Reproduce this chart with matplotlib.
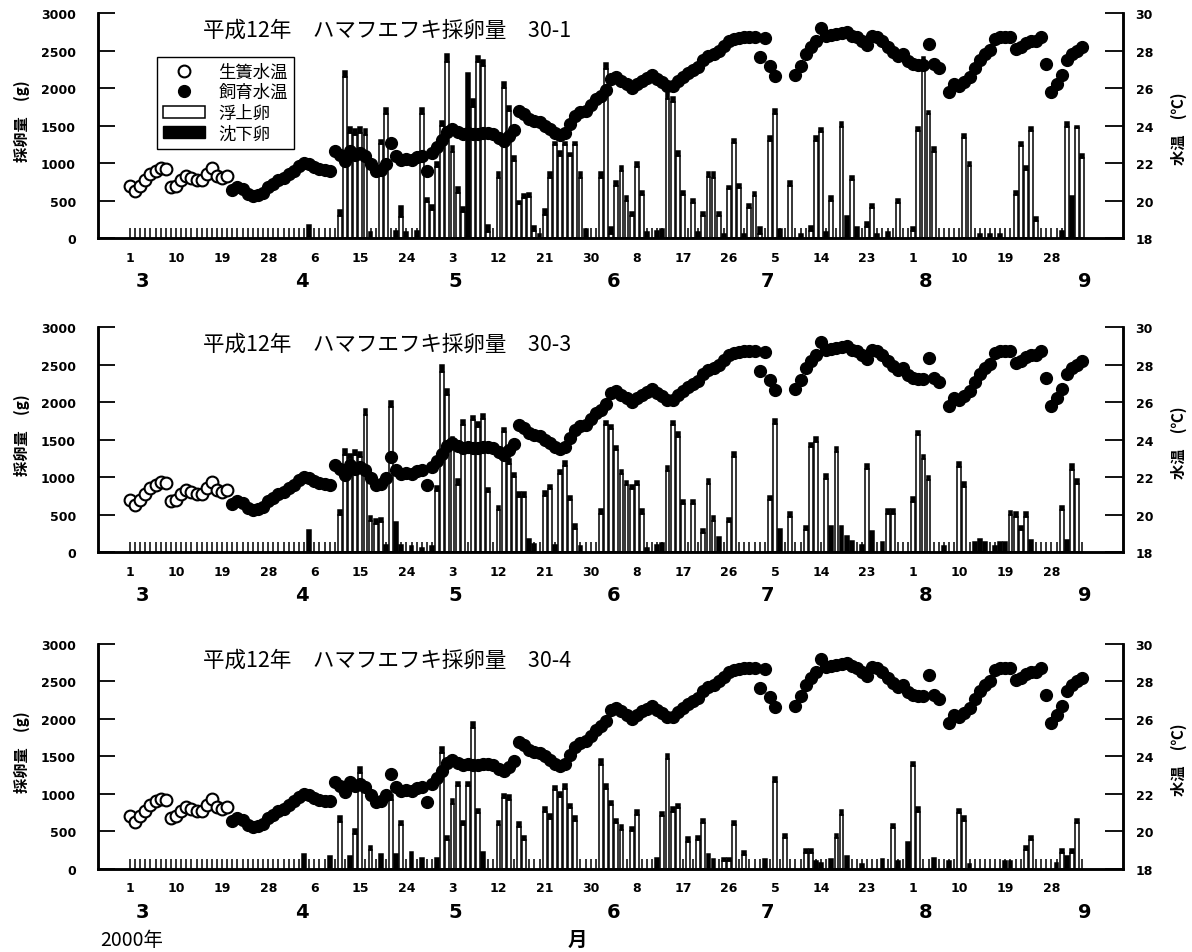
import numpy as np
import matplotlib
matplotlib.use('Agg')
import matplotlib.pyplot as plt
from matplotlib.lines import Line2D
from matplotlib.patches import Patch
from matplotlib.transforms import blended_transform_factory

plt.rcParams['font.family'] = ['DejaVu Sans', 'Noto Sans CJK JP']
JP = ['Noto Sans CJK JP', 'DejaVu Sans']
NUM = ['Liberation Sans Narrow', 'DejaVu Sans']

# day 0 = 3月1日
tick_days = list(range(0, 181, 9))
tick_labels = ['1', '10', '19', '28', '6', '15', '24', '3', '12', '21', '30',
               '8', '17', '26', '5', '14', '23', '1', '10', '19', '28']
month_start = [0, 31, 61, 92, 122, 153, 184]
month_names = ['3', '4', '5', '6', '7', '8', '9']

# 生簀水温 (day 0-19)
open_temp = [20.8, 20.5, 20.8, 21.1, 21.4, 21.6, 21.75, 21.7,
             20.7, 20.8, 21.1, 21.3, 21.2, 21.1, 21.1, 21.4, 21.75, 21.3, 21.2, 21.3]

# 飼育水温 (day 20-186)
fed_temp = [20.55, 20.7, 20.6, 20.35, 20.25, 20.3, 20.4, 20.7, 20.9, 21.1,      # 20-29
            21.2, 21.4, 21.6, 21.85, 22.0, 21.95, 21.8, 21.7, 21.65, 21.6,      # 30-39
            22.65, 22.45, 22.1, 22.65, 22.45, 22.55, 22.35, 21.95, 21.55, 21.65,  # 40-49
            21.95, 23.05, 22.35, 22.15, 22.2, 22.15, 22.3, 22.35, 21.55, 22.55,  # 50-59
            22.85, 23.25, 23.65, 23.8, 23.65, 23.55, 23.6, 23.55, 23.55, 23.6,   # 60-69
            23.6, 23.55, 23.35, 23.2, 23.45, 23.75, 24.75, 24.6, 24.35, 24.25,   # 70-79
            24.2, 24.0, 23.8, 23.6, 23.5, 23.6, 24.1, 24.5, 24.7, 24.8,         # 80-89
            25.1, 25.4, 25.6, 25.9, 26.5, 26.6, 26.4, 26.2, 26.0, 26.2,         # 90-99
            26.4, 26.55, 26.7, 26.5, 26.3, 26.1, 26.1, 26.35, 26.6, 26.8,       # 100-109
            26.95, 27.1, 27.5, 27.7, 27.8, 28.0, 28.25, 28.5, 28.6, 28.65,      # 110-119
            28.7, 28.7, 28.7, 27.65, 28.65, 27.15, 26.65, np.nan, np.nan, np.nan,  # 120-129
            26.7, 27.2, 27.8, 28.2, 28.5, 29.2, 28.75, 28.85, 28.9, 28.95,      # 130-139
            29.0, 28.8, 28.7, 28.5, 28.3, 28.75, 28.7, 28.5, 28.2, 27.9,        # 140-149
            27.7, 27.8, 27.45, 27.3, 27.25, 27.25, 28.35, 27.3, 27.05, np.nan,  # 150-159
            25.8, 26.2, 26.1, 26.3, 26.6, 27.05, 27.5, 27.8, 28.05, 28.6,       # 160-169
            28.7, 28.7, 28.7, 28.1, 28.2, 28.4, 28.5, 28.5, 28.7, 27.3,         # 170-179
            25.8, 26.2, 26.7, 27.5, 27.8, 28.0, 28.2]                           # 180-186

# 30-1
p1_days = [35, 41, 42, 43, 44, 45, 46, 47, 49, 50,
           52, 53, 54, 56, 57, 58, 59, 60, 61, 62,
           63, 64, 65, 66, 67, 68, 69, 70, 72, 73,
           74, 75, 76, 77, 78, 79, 80, 81, 82, 83,
           84, 85, 86, 87, 88, 89, 92, 93, 94, 95,
           96, 97, 98, 99, 100, 101, 103, 104, 105, 106,
           107, 108, 110, 111, 112, 113, 114, 115, 116, 117,
           118, 119, 120, 121, 122, 123, 125, 126, 127, 129,
           131, 133, 134, 135, 136, 137, 139, 140, 141, 142,
           144, 145, 146, 148, 150, 153, 154, 155, 156, 157,
           163, 164, 166, 168, 170, 173, 174, 175, 176, 177,
           182, 183, 184, 185, 186]
p1_float = [0, 300, 2150, 1400, 1380, 1400, 1380, 0, 1250, 1650,
            0, 280, 0, 0, 1650, 480, 380, 950, 1500, 2350,
            1150, 600, 350, 0, 1750, 2350, 2300, 80, 800, 2000,
            1700, 1030, 450, 540, 550, 100, 0, 310, 800, 1240,
            1100, 1240, 1100, 1240, 800, 0, 800, 2250, 50, 700,
            900, 500, 300, 950, 580, 0, 0, 0, 1850, 1820,
            1100, 580, 470, 0, 300, 820, 800, 300, 0, 650,
            1270, 670, 0, 400, 560, 50, 1300, 1660, 0, 700,
            0, 100, 1300, 1420, 0, 500, 1480, 0, 780, 0,
            150, 400, 0, 0, 470, 100, 1430, 2380, 1650, 1150,
            1340, 960, 0, 0, 0, 580, 1230, 910, 1430, 230,
            0, 1480, 0, 1470, 1070]
p1_sink = [180, 80, 80, 80, 80, 80, 80, 80, 60, 80,
           100, 150, 80, 100, 80, 60, 60, 60, 60, 100,
           80, 80, 60, 2200, 100, 80, 80, 100, 80, 80,
           60, 60, 50, 50, 50, 60, 60, 80, 80, 40,
           60, 40, 40, 40, 80, 120, 80, 80, 100, 60,
           60, 60, 50, 60, 50, 80, 100, 120, 80, 60,
           60, 50, 50, 80, 50, 60, 80, 50, 60, 50,
           50, 50, 60, 50, 50, 100, 60, 60, 120, 60,
           50, 60, 60, 50, 80, 60, 70, 300, 50, 150,
           60, 50, 60, 80, 50, 50, 50, 30, 50, 60,
           50, 50, 60, 50, 50, 50, 50, 50, 50, 50,
           100, 70, 560, 30, 50]

# 30-3
p2_days = [35, 41, 42, 43, 44, 45, 46, 47, 48, 49,
           50, 51, 52, 53, 55, 57, 59, 60, 61, 62,
           63, 64, 65, 67, 68, 69, 70, 72, 73, 74,
           75, 76, 77, 78, 79, 81, 82, 83, 84, 85,
           86, 87, 88, 92, 93, 94, 95, 96, 97, 98,
           99, 100, 101, 103, 104, 105, 106, 107, 108, 110,
           112, 113, 114, 115, 117, 118, 125, 126, 127, 129,
           132, 133, 134, 136, 137, 138, 139, 140, 141, 143,
           144, 145, 147, 148, 149, 153, 154, 155, 156, 159,
           162, 163, 165, 166, 167, 169, 170, 171, 172, 173,
           174, 175, 176, 182, 183, 184, 185]
p2_float = [0, 500, 1300, 1250, 1300, 1270, 1830, 420, 380, 400,
            0, 1930, 0, 0, 0, 0, 0, 820, 2400, 2100,
            1470, 900, 1700, 1760, 1670, 1780, 800, 560, 1600, 1180,
            1000, 740, 740, 0, 0, 750, 840, 0, 1040, 1150,
            690, 310, 0, 510, 1690, 1640, 1360, 1040, 890, 840,
            890, 510, 0, 0, 0, 1080, 1690, 1540, 640, 640,
            250, 910, 420, 0, 400, 1270, 690, 1710, 0, 470,
            290, 1400, 1470, 980, 0, 1340, 0, 0, 0, 0,
            1110, 0, 0, 510, 510, 670, 1560, 1240, 960, 0,
            1140, 870, 0, 0, 0, 0, 0, 0, 490, 470,
            290, 470, 0, 560, 0, 1100, 910]
p2_sink = [300, 60, 70, 60, 60, 60, 80, 60, 60, 60,
           100, 80, 400, 100, 80, 60, 80, 60, 100, 80,
           60, 70, 60, 60, 60, 60, 60, 60, 60, 60,
           60, 60, 60, 170, 110, 60, 60, 100, 60, 60,
           60, 60, 80, 60, 60, 60, 60, 60, 60, 60,
           60, 60, 60, 100, 120, 70, 60, 60, 60, 60,
           60, 60, 60, 200, 60, 60, 60, 60, 310, 60,
           60, 60, 60, 60, 350, 60, 350, 210, 150, 100,
           60, 280, 130, 60, 60, 60, 60, 60, 60, 80,
           60, 60, 140, 180, 140, 80, 140, 140, 60, 60,
           60, 60, 160, 60, 160, 70, 60]

# 30-4
p3_days = [34, 39, 41, 43, 44, 45, 47, 49, 51, 52,
           53, 55, 57, 60, 61, 62, 63, 64, 65, 66,
           67, 68, 69, 72, 73, 74, 76, 77, 81, 82,
           83, 84, 85, 86, 87, 92, 93, 94, 95, 96,
           98, 99, 103, 104, 105, 106, 107, 109, 111, 112,
           113, 114, 116, 117, 118, 120, 124, 126, 128, 132,
           133, 134, 135, 137, 138, 139, 140, 143, 147, 149,
           150, 152, 153, 154, 157, 160, 162, 163, 164, 171,
           172, 175, 176, 181, 182, 183, 184, 185]
p3_float = [0, 0, 630, 0, 470, 1280, 250, 0, 920, 0,
            580, 0, 0, 0, 1540, 380, 870, 1100, 580, 1100,
            1880, 740, 0, 580, 940, 920, 560, 380, 760, 670,
            1050, 960, 1070, 810, 640, 1390, 1070, 850, 610, 520,
            500, 720, 0, 700, 1470, 760, 810, 360, 380, 610,
            0, 0, 100, 100, 580, 180, 0, 1160, 410, 210,
            210, 0, 0, 0, 410, 720, 0, 0, 0, 540,
            0, 0, 1370, 760, 0, 0, 740, 640, 0, 0,
            0, 250, 380, 0, 210, 0, 210, 610]
p3_sink = [200, 170, 70, 170, 60, 80, 60, 200, 60, 200,
           60, 230, 150, 150, 80, 60, 60, 60, 60, 60,
           80, 60, 230, 60, 60, 60, 60, 60, 60, 60,
           60, 60, 60, 60, 60, 80, 60, 60, 60, 60,
           60, 60, 150, 60, 60, 60, 60, 60, 60, 60,
           200, 130, 50, 50, 60, 60, 130, 60, 60, 60,
           60, 100, 80, 130, 60, 60, 170, 60, 130, 60,
           100, 360, 60, 60, 150, 100, 60, 60, 60, 100,
           100, 60, 60, 80, 60, 170, 60, 60]

panels = [('30-1', p1_days, p1_float, p1_sink),
          ('30-3', p2_days, p2_float, p2_sink),
          ('30-4', p3_days, p3_float, p3_sink)]

fig = plt.figure(figsize=(11.92, 9.53), dpi=100)
bottoms = [0.7492, 0.4197, 0.0871]
H = 0.2361
L, W = 0.0822, 0.860

open_days = np.arange(0, len(open_temp))
fed_days = np.arange(20, 20 + len(fed_temp))

for i, (name, days, fl, sk) in enumerate(panels):
    ax = fig.add_axes([L, bottoms[i], W, H])
    ax2 = ax.twinx()
    fl = np.array(fl)
    sk = np.array(sk)
    ax.bar(days, fl, width=0.75, color='white', edgecolor='black', linewidth=1.1, zorder=2)
    ax.bar(days, sk, bottom=fl, width=0.75, color='black', edgecolor='black', linewidth=1.1, zorder=2)

    ax2.plot(open_days, open_temp, 'o', ms=8.5, mfc='white', mec='black', mew=1.5)
    ax2.plot(fed_days, fed_temp, 'o', ms=8.5, mfc='black', mec='black')

    ax.set_xlim(-6.25, 194)
    ax.set_ylim(0, 3000)
    ax2.set_ylim(18, 30)
    ax.set_yticks(range(0, 3001, 500))
    ax2.set_yticks(range(18, 31, 2))
    ax.set_xticks(tick_days)
    ax.set_xticklabels(tick_labels)
    ax.set_xticks(range(0, 187), minor=True)
    ax.tick_params(axis='x', which='both', direction='in', length=7, width=1.1, pad=9)
    ax.tick_params(axis='y', direction='in', length=12, width=1.3, pad=16)
    ax2.tick_params(axis='y', direction='in', length=13, width=1.3, pad=9)
    for lab in ax.get_xticklabels() + ax.get_yticklabels() + ax2.get_yticklabels():
        lab.set_family(NUM)
        lab.set_fontweight('bold')
        lab.set_fontsize(9)

    for a in (ax, ax2):
        a.spines['top'].set_visible(False)
        for s in ('left', 'right', 'bottom'):
            a.spines[s].set_linewidth(1.8)

    trans = blended_transform_factory(ax.transData, ax.transAxes)
    for d, m in zip(month_start, month_names):
        ax.text(d + 2.5, -0.19, m, transform=trans, ha='center', va='center',
                fontsize=14, fontweight='bold', family=NUM)

    ax.text(0.102, 0.928, '平成12年　ハマフエフキ採卵量　' + name, transform=ax.transAxes,
            ha='left', va='center', fontsize=15.5, family=JP)
    ax.text(-0.074, 0.525, '採卵量　(g)', transform=ax.transAxes, rotation=90,
            ha='center', va='center', fontsize=11, fontweight='bold', family=JP)
    ax2.text(1.054, 0.49, '水温　(℃)', transform=ax.transAxes, rotation=90,
             ha='center', va='center', fontsize=11, fontweight='bold', family=JP)

    if i == 0:
        handles = [Line2D([], [], marker='o', ls='none', ms=8.5, mfc='white', mec='black', mew=1.5),
                   Line2D([], [], marker='o', ls='none', ms=8.5, mfc='black', mec='black'),
                   Patch(facecolor='white', edgecolor='black', linewidth=1.1),
                   Patch(facecolor='black', edgecolor='black')]
        leg = ax2.legend(handles, ['生簀水温', '飼育水温', '浮上卵', '沈下卵'],
                         loc='upper left', bbox_to_anchor=(0.049, 0.845),
                         prop={'family': JP, 'size': 12.5}, frameon=True, fancybox=False,
                         edgecolor='black', framealpha=1, handlelength=2.4,
                         labelspacing=0.15, borderpad=0.35, handletextpad=0.8)
        leg.get_frame().set_linewidth(1.0)

fig.text(0.084, 0.013, '2000年', fontsize=14, family=JP, ha='left', va='center')
fig.text(0.484, 0.013, '月', fontsize=14, fontweight='bold', family=JP, ha='center', va='center')

fig.savefig('out.png', dpi=100)
